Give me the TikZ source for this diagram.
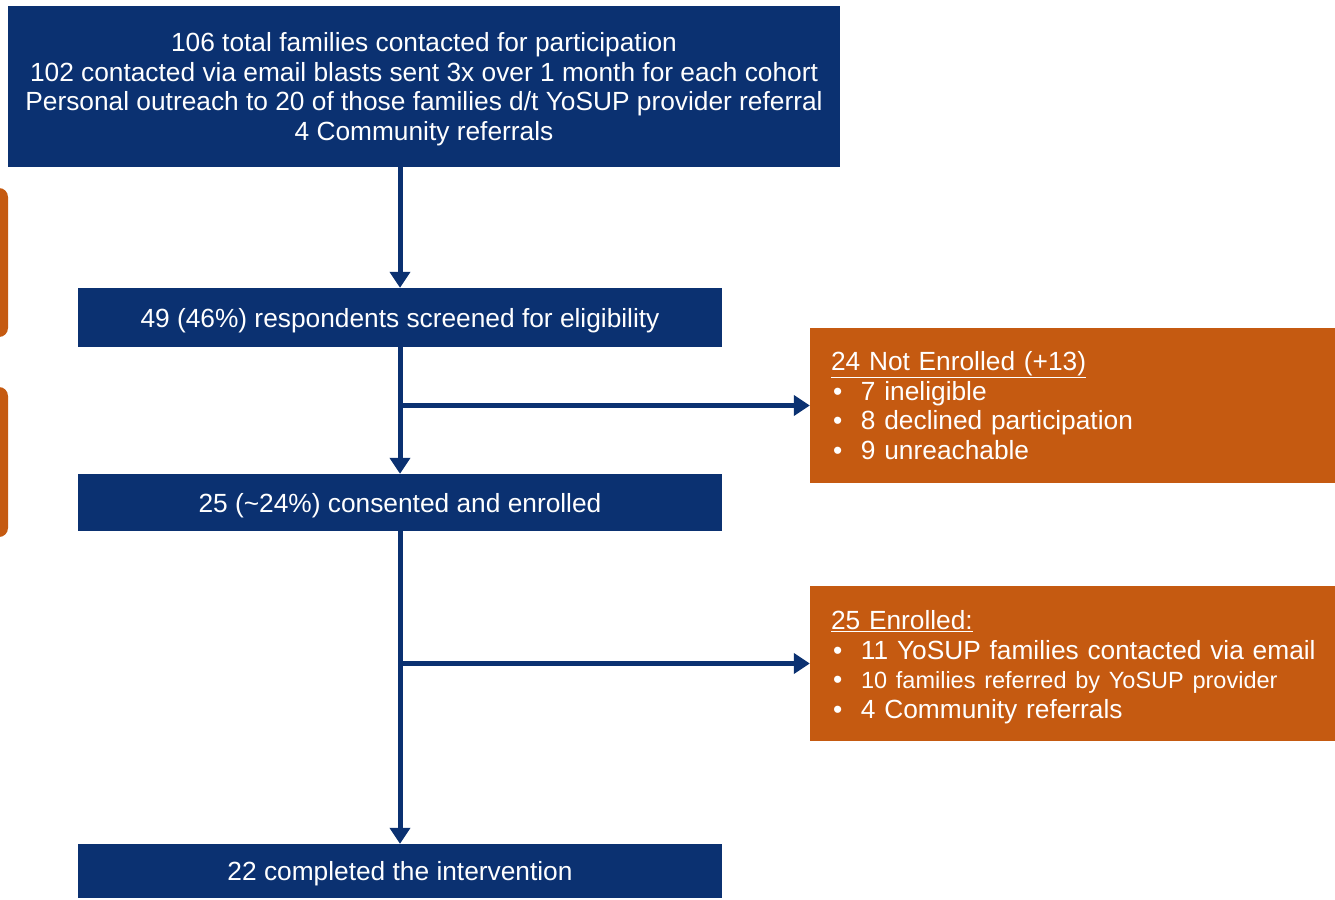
\documentclass[tikz,border=0pt]{standalone}
\usepackage{fontspec}
\setmainfont{Liberation Sans}
\usetikzlibrary{arrows.meta}
\definecolor{navy}{RGB}{11,49,113}
\definecolor{rust}{RGB}{197,90,17}
\newcommand{\bul}{\makebox[30pt][l]{\hspace{2pt}\textbullet}}

\begin{document}
\begin{tikzpicture}[x=1pt, y=-1pt,
        bluebox/.style={fill=navy, text=white, align=center, inner sep=0pt, text depth=0pt,
            font=\fontsize{26.3}{29.5}\selectfont},
        orangebox/.style={fill=rust, text=white, align=left, inner xsep=21pt, inner ysep=0pt,
            text width=483pt, minimum height=155pt, font=\fontsize{26.3}{29.5}\selectfont},
        flow/.style={navy, line width=5pt, -{Triangle[width=20pt,length=16pt]}}]
    \useasboundingbox (0,0) rectangle (1335,899);
    % cut-off boxes at the left edge
    \foreach \ya/\yb in {188/337, 387/537}
        \fill[rust, rounded corners=9pt] (-40,\ya) rectangle (8,\yb);
    \node[bluebox, minimum width=832pt, minimum height=161pt] (contact) at (424,86.5)
        {106 total families contacted for participation\\
         102 contacted via email blasts sent 3x over 1 month for each cohort\\
         Personal outreach to 20 of those families d/t YoSUP provider referral\\
         4 Community referrals};
    \node[bluebox, minimum width=644pt, minimum height=59pt] (screen) at (400,317.5)
        {49 (46\%) respondents screened for eligibility};
    \node[bluebox, minimum width=644pt, minimum height=57pt] (enrol) at (400,502.5)
        {25 (\textasciitilde24\%) consented and enrolled};
    \node[bluebox, minimum width=644pt, minimum height=54pt] (done) at (400,871)
        {22 completed the intervention};
    \node[orangebox] (notenrol) at (1072.5,405.5)
        {\underline{24 Not Enrolled (+13)}\\
         \bul 7 ineligible\\
         \bul 8 declined participation\\
         \bul 9 unreachable};
    \node[orangebox] (enrolled) at (1072.5,663.5)
        {\rule{0pt}{26pt}\underline{25 Enrolled:}\\
         \mbox{\bul 11 YoSUP families contacted via email}\\
         \mbox{\bul \fontsize{23.5}{29.5}\selectfont 10 families referred by YoSUP provider}\\
         \bul 4 Community referrals};
    \draw[flow] (contact.south -| screen.north) -- (screen.north);
    \draw[flow] (screen.south) -- (enrol.north);
    \draw[flow] (enrol.south) -- (done.north);
    \coordinate (b1) at (screen.south |- notenrol.west);
    \coordinate (b2) at (enrol.south |- enrolled.west);
    \draw[flow] (b1) -- (notenrol.west);
    \draw[flow] (b2) -- (enrolled.west);
\end{tikzpicture}
\end{document}
